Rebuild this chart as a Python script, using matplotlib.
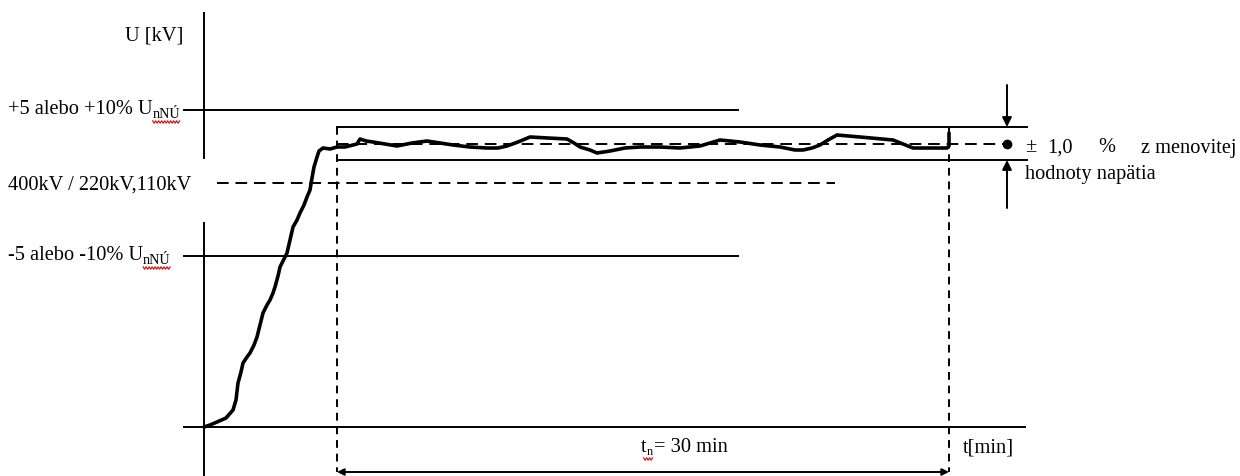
import numpy as np
import matplotlib
matplotlib.use('Agg')
import matplotlib.pyplot as plt

# drawing units = pixels of the 1240x476 sheet (y grows downward)
axis_x = 204
axis_y = 427
level_plus = 110      # +5 / +10 % UnNU
level_nom = 183       # 400kV / 220kV, 110kV
level_minus = 256     # -5 / -10 % UnNU
band_top = 127        # +1 % band
band_mid = 144        # setpoint
band_bot = 160        # -1 % band
t_start = 337
t_end = 949

curve_t = [204, 210, 217, 226, 233, 236, 238, 241, 243, 247, 250, 254, 257, 260, 263,
           267, 270, 273, 275, 278, 280, 284, 287, 290, 293, 297, 300, 304, 307, 310,
           312, 314, 317, 319, 323, 330, 337, 345, 353, 357, 360, 366, 373, 385, 397,
           412, 427, 440, 453, 470, 487, 498, 507, 518, 530, 548, 567, 574, 580, 590,
           597, 610, 625, 640, 660, 680, 700, 720, 740, 760, 780, 795, 803, 812, 820,
           828, 837, 860, 893, 903, 913, 930, 947, 949, 949]
curve_u = [427, 425, 422, 418, 410, 400, 383, 372, 363, 357, 353, 345, 337, 325, 313,
           305, 300, 293, 287, 276, 267, 259, 253, 240, 227, 220, 213, 205, 197, 190,
           178, 167, 157, 151, 148, 149, 147, 147, 145, 144, 139, 141, 142, 144, 146,
           143, 141, 143, 145, 147, 148, 148, 146, 142, 137, 138, 139, 143, 147, 150,
           153, 151, 148, 147, 147, 148, 146, 140, 142, 145, 147, 150, 150, 148, 145,
           140, 135, 137, 140, 144, 148, 148, 148, 146, 133]

left_labels = ['+5 alebo +10% U', '400kV / 220kV,110kV', '-5 alebo -10% U']
left_levels = [level_plus, level_nom, level_minus]
left_subs = ['nNÚ', None, 'nNÚ']

tol_words = ['±', '1,0', '%', 'z menovitej']
tol_x = [1025, 1047, 1098, 1141]

plt.rcParams['font.family'] = ['Liberation Serif', 'DejaVu Serif']
fs = 14.7

fig = plt.figure(figsize=(12.4, 4.76), dpi=100)
ax = fig.add_axes([0, 0, 1, 1])
ax.set_xlim(0, 1240)
ax.set_ylim(476, 0)
ax.axis('off')

lw = 1.4
k = 'black'

# axes (vertical axis is interrupted for the labels)
ax.plot([axis_x, axis_x], [13, 158], color=k, lw=lw)
ax.plot([axis_x, axis_x], [223, 476], color=k, lw=lw)
ax.plot([184, 1025], [axis_y, axis_y], color=k, lw=lw)

# limit lines
ax.plot([184, 738], [level_plus, level_plus], color=k, lw=lw)
ax.plot([184, 738], [level_minus, level_minus], color=k, lw=lw)
ax.plot([217, 835], [level_nom, level_nom], color=k, lw=lw, linestyle=(0, (6, 3.5)))

# tolerance band
ax.plot([t_start, 1027], [band_top, band_top], color=k, lw=lw)
ax.plot([t_start, 1027], [band_bot, band_bot], color=k, lw=lw)
ax.plot([t_start, 1003], [band_mid, band_mid], color=k, lw=lw, linestyle=(0, (6, 3.5)))
ax.plot([t_start, t_start], [band_top, 472], color=k, lw=lw, linestyle=(0, (4, 3)))
ax.plot([t_end, t_end], [band_top, 472], color=k, lw=lw, linestyle=(0, (4, 3)))

# duration arrow
ax.annotate('', xy=(t_start, 472), xytext=(t_end, 472),
            arrowprops=dict(arrowstyle='<|-|>', color=k, lw=lw,
                            mutation_scale=10, shrinkA=0, shrinkB=0))

# tolerance arrows on the right
ax.annotate('', xy=(1007, band_top), xytext=(1007, 85),
            arrowprops=dict(arrowstyle='-|>', color=k, lw=lw,
                            mutation_scale=14, shrinkA=0, shrinkB=0))
ax.annotate('', xy=(1007, band_bot), xytext=(1007, 208),
            arrowprops=dict(arrowstyle='-|>', color=k, lw=lw,
                            mutation_scale=14, shrinkA=0, shrinkB=0))
ax.plot([1007], [band_mid], 'o', color=k, ms=6)

# voltage curve
ax.plot(curve_t, curve_u, color=k, lw=2.6, solid_joinstyle='round', solid_capstyle='round')

fig.canvas.draw()
renderer = fig.canvas.get_renderer()
inv = ax.transData.inverted()


def squiggle(x0, x1, y):
    # red spell-check underline
    xs = np.arange(x0, x1 + 0.1, 1.5)
    ys = y + 1.2 * np.where(np.arange(len(xs)) % 2 == 0, -1, 1)
    ax.plot(xs, ys, color='#e00000', lw=0.8)


def right_edge(t):
    bb = t.get_window_extent(renderer)
    return inv.transform((bb.x0, bb.y0))[0], inv.transform((bb.x1, bb.y0))[0]


def with_sub(x, y, main, sub):
    t = ax.text(x, y, main, fontsize=fs, va='center', ha='left')
    x_end = right_edge(t)[1]
    s = ax.text(x_end, y + 4, sub, fontsize=fs * 0.7, va='center', ha='left')
    sx0, sx1 = right_edge(s)
    squiggle(sx0, sx1, y + 12)


for lab, lev, sub in zip(left_labels, left_levels, left_subs):
    if sub:
        with_sub(8, lev, lab, sub)
    else:
        ax.text(8, lev + 2, lab, fontsize=fs, va='center', ha='left')

ax.text(183, 36, 'U [kV]', fontsize=fs, va='center', ha='right')
for w, x in zip(tol_words, tol_x):
    ax.text(x, 148, w, fontsize=fs, va='center', ha='left')
ax.text(1025, 174, 'hodnoty napätia', fontsize=fs, va='center', ha='left')
ax.text(963, 448, 't[min]', fontsize=fs, va='center', ha='left')

# t_n = 30 min
tt = ax.text(641, 448, 't', fontsize=fs, va='center', ha='left')
xe = right_edge(tt)[1]
sn = ax.text(xe, 452, 'n', fontsize=fs * 0.6, va='center', ha='left')
sx0, sx1 = right_edge(sn)
squiggle(sx0 - 3, sx1, 459)
ax.text(sx1 + 1, 448, '= 30 min', fontsize=fs, va='center', ha='left')

fig.savefig('out.png', dpi=100)
